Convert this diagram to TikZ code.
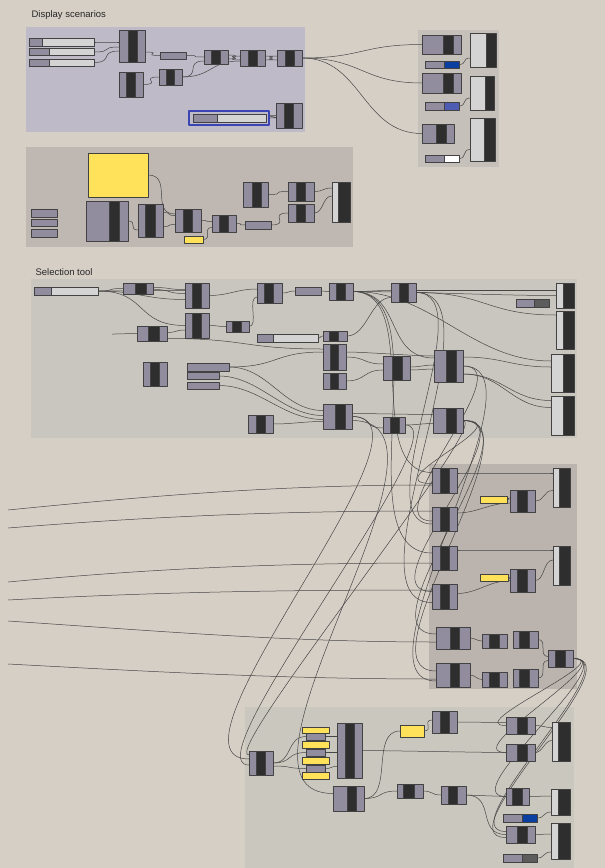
\documentclass[tikz,border=0pt]{standalone}
\usepackage{fontspec}
\setmainfont{Liberation Sans}
\usetikzlibrary{calc}
\pgfdeclarelayer{back}
\pgfdeclarelayer{wires}
\pgfsetlayers{back,wires,main}
\definecolor{bgc}{RGB}{214,207,198}
\definecolor{pdisp}{RGB}{190,186,199}
\definecolor{pgrey}{RGB}{190,183,178}
\definecolor{pright}{RGB}{198,192,186}
\definecolor{psel}{RGB}{200,198,190}
\definecolor{pmid}{RGB}{186,179,174}
\definecolor{pbot}{RGB}{202,199,190}
\definecolor{lav}{RGB}{145,141,158}
\definecolor{dark}{RGB}{46,46,46}
\definecolor{light}{RGB}{212,212,212}
\definecolor{edge}{RGB}{66,66,66}
\definecolor{wirec}{RGB}{70,70,70}
\definecolor{yel}{RGB}{255,226,90}
\definecolor{dblue}{RGB}{10,62,160}
\definecolor{mblue}{RGB}{78,92,180}
\definecolor{dgrey}{RGB}{92,92,92}
\definecolor{frameblue}{RGB}{58,68,178}
\begin{document}
\begin{tikzpicture}[x=1pt, y=-1pt, font=\fontsize{9.5}{11}\selectfont, line join=round, line cap=round,
  box/.style={draw=edge, line width=.6pt, inner sep=0pt, outer sep=0pt, rectangle},
  sz/.style 2 args={minimum width=#1pt, minimum height=#2pt},
  part/.style n args={3}{path picture={\filldraw[fill=#1, draw=edge, line width=.5pt]
    ($(path picture bounding box.north west)!#2!(path picture bounding box.north east)$) rectangle
    ($(path picture bounding box.south west)!#3!(path picture bounding box.south east)$);}},
  comp/.style={box, fill=lav, part={dark}{.32}{.68}},
  viewer/.style={box, fill=light, part={dark}{#1}{1}}, viewer/.default=.4,
  slider/.style={box, fill=light, part={lav}{0}{#1}}, slider/.default=.3,
  swatch/.style={box, fill=#1, part={lav}{0}{.56}},
  param/.style={box, fill=lav},
  ynote/.style={box, fill=yel},
  wire/.style={draw=wirec, line width=.5pt},
  gw/.style={wire, to path={.. controls +(#1,0) and +(-#1,0) .. (\tikztotarget)}}, gw/.default=20]
\useasboundingbox (0,0) rectangle (605,868);
\begin{pgfonlayer}{back}
\fill[bgc] (0,0) rectangle (605,868);
\fill[pdisp] (26,27) rectangle (305,132);
\fill[pgrey] (26,147) rectangle (353,247);
\fill[pright] (418,30) rectangle (499,167);
\fill[psel] (31,279) rectangle (577,438);
\fill[pmid] (429,464) rectangle (577,689);
\fill[pbot] (245,707) rectangle (574,868);
\end{pgfonlayer}
\node[anchor=base west, text=black!85] (t1) at (28,17) {Display scenarios};
\node[anchor=base west, text=black!85] (t2) at (32,275) {Selection tool};
% display scenarios
\node[slider=.2, sz={65}{8}] (s1) at (61.5,42) {};
\node[slider=.31, sz={65}{7}] (s2) at (61.5,52) {};
\node[slider=.31, sz={65}{7}] (s3) at (61.5,62.5) {};
\node[comp, part={dark}{.35}{.69}, sz={26}{32}] (c1) at (132,46) {};
\node[param, sz={26}{7}] (p1) at (173,55.5) {};
\node[comp, sz={24}{14}] (c2) at (216,57) {};
\node[comp, sz={25}{16}] (c3) at (252.5,58) {};
\node[comp, sz={25}{16}] (c4) at (289.5,58) {};
\node[comp, sz={24}{25}] (c5) at (131,84.5) {};
\node[comp, sz={23}{16}] (c6) at (170.5,77) {};
\node[draw=frameblue, line width=1.6pt, fill=pdisp, inner sep=0pt, sz={80}{14}] (f1) at (229,118) {};
\node[slider=.33, sz={73}{8}] (s4) at (229.5,118) {};
\node[comp, sz={26}{25}] (c7) at (289,115.5) {};
\node[comp, part={dark}{.54}{.79}, sz={39}{19}] (ca) at (441.5,44.5) {};
\node[swatch=dblue, sz={34}{7}] (w1) at (442,64.5) {};
\node[viewer=.62, sz={26}{34}] (v1) at (483,50) {};
\node[comp, part={dark}{.54}{.79}, sz={39}{20}] (cb) at (441.5,83) {};
\node[swatch=mblue, sz={34}{8}] (w2) at (442,106) {};
\node[viewer=.62, sz={24}{34}] (v2) at (482,93) {};
\node[comp, part={dark}{.44}{.75}, sz={32}{19}] (cc) at (438,133.5) {};
\node[swatch=white, sz={34}{7}] (w3) at (442,158.5) {};
\node[viewer=.56, sz={25}{43}] (v3) at (482.5,139.5) {};
% second group
\node[ynote, sz={60}{44}] (y1) at (118,175) {};
\node[param, sz={26}{8}] (q1) at (44,213) {};
\node[param, sz={26}{7}] (q2) at (44,222.5) {};
\node[param, sz={26}{8}] (q3) at (44,233) {};
\node[comp, part={dark}{.55}{.79}, sz={42}{40}] (c8) at (107,221) {};
\node[comp, part={dark}{.28}{.68}, sz={25}{33}] (c9) at (150.5,220.5) {};
\node[comp, sz={26}{23}] (c10) at (188,220.5) {};
\node[comp, sz={24}{17}] (c11) at (224,223.5) {};
\node[ynote, sz={19}{7}] (y2) at (193.5,239.5) {};
\node[param, sz={26}{8}] (p2) at (258,225) {};
\node[comp, part={dark}{.36}{.72}, sz={25}{25}] (c12) at (255.5,194.5) {};
\node[comp, sz={26}{19}] (c13) at (301,191.5) {};
\node[comp, sz={26}{18}] (c14) at (301,213) {};
\node[viewer=.33, sz={18}{40}] (v4) at (341,202) {};
% selection tool
\node[slider=.27, sz={64}{8}] (s5) at (66,291) {};
\node[comp, part={dark}{.4}{.77}, sz={30}{11}] (c15) at (138,288.5) {};
\node[comp, sz={24}{25}] (c16) at (197,295.5) {};
\node[comp, part={dark}{.28}{.64}, sz={25}{20}] (c17) at (269.5,293) {};
\node[param, sz={26}{8}] (p3) at (308,291) {};
\node[comp, sz={24}{17}] (c18) at (341,291.5) {};
\node[comp, sz={25}{19}] (c19) at (403.5,292.5) {};
\node[swatch=dgrey, sz={33}{8}] (w4) at (532.5,303) {};
\node[viewer=.39, sz={18}{25}] (v5) at (565,295.5) {};
\node[viewer=.39, sz={18}{38}] (v6) at (565,330) {};
\node[viewer=.52, sz={23}{38}] (v7) at (562.5,373) {};
\node[viewer=.52, sz={23}{39}] (v8) at (562.5,415.5) {};
\node[comp, sz={24}{25}] (c20) at (197,325.5) {};
\node[comp, part={dark}{.37}{.73}, sz={30}{15}] (c21) at (152,333.5) {};
\node[comp, part={dark}{.26}{.65}, sz={23}{11}] (c22) at (237.5,326.5) {};
\node[slider=.26, sz={61}{8}] (s6) at (287.5,338) {};
\node[comp, part={dark}{.25}{.63}, sz={24}{10}] (c23) at (335,336) {};
\node[comp, sz={23}{26}] (c24) at (334.5,357) {};
\node[comp, sz={23}{16}] (c25) at (334.5,381) {};
\node[comp, sz={24}{24}] (c26) at (155,374) {};
\node[param, sz={42}{8}] (p4) at (208,367) {};
\node[param, sz={32}{7}] (p5) at (203,376) {};
\node[param, sz={32}{7}] (p6) at (203,385.5) {};
\node[comp, part={dark}{.33}{.7}, sz={27}{24}] (c27) at (396.5,368) {};
\node[comp, part={dark}{.41}{.76}, sz={29}{32}] (c28) at (448.5,366) {};
\node[comp, sz={25}{18}] (c29) at (260.5,424) {};
\node[comp, part={dark}{.41}{.76}, sz={29}{25}] (c30) at (337.5,416.5) {};
\node[comp, part={dark}{.32}{.73}, sz={22}{16}] (c31) at (394,425) {};
\node[comp, part={dark}{.43}{.77}, sz={30}{25}] (c32) at (448,420.5) {};
% right group
\node[comp, sz={25}{25}] (c33) at (444.5,480.5) {};
\node[ynote, sz={27}{7}] (y3) at (493.5,499.5) {};
\node[comp, part={dark}{.28}{.68}, sz={25}{22}] (c34) at (522.5,501) {};
\node[viewer=.35, sz={17}{39}] (v9) at (561.5,487.5) {};
\node[comp, sz={25}{24}] (c35) at (444.5,519) {};
\node[comp, sz={25}{24}] (c36) at (444.5,558) {};
\node[comp, sz={25}{25}] (c37) at (444.5,596.5) {};
\node[ynote, sz={28}{7}] (y4) at (494,577.5) {};
\node[comp, part={dark}{.28}{.68}, sz={25}{23}] (c38) at (522.5,580.5) {};
\node[viewer=.35, sz={17}{39}] (v10) at (561.5,565.5) {};
\node[comp, part={dark}{.41}{.68}, sz={34}{22}] (c39) at (453,638) {};
\node[comp, part={dark}{.28}{.68}, sz={25}{14}] (c40) at (494.5,641) {};
\node[comp, part={dark}{.24}{.64}, sz={25}{17}] (c41) at (525.5,639.5) {};
\node[comp, part={dark}{.28}{.68}, sz={25}{17}] (c42) at (560.5,658.5) {};
\node[comp, part={dark}{.41}{.68}, sz={34}{24}] (c43) at (453,675) {};
\node[comp, part={dark}{.28}{.68}, sz={25}{15}] (c44) at (494.5,679.5) {};
\node[comp, part={dark}{.24}{.64}, sz={25}{18}] (c45) at (525.5,678) {};
% bottom group
\node[comp, sz={24}{24}] (b1) at (261,763) {};
\node[param, sz={19}{7}] (pa) at (315.5,736.5) {};
\node[param, sz={19}{7}] (pb) at (315.5,752.5) {};
\node[param, sz={19}{7}] (pc) at (315.5,768.5) {};
\node[ynote, sz={27}{6}] (ya) at (315.5,730) {};
\node[ynote, sz={27}{7}] (yb) at (315.5,744.5) {};
\node[ynote, sz={27}{7}] (yc) at (315.5,760.5) {};
\node[ynote, sz={27}{7}] (yd) at (315.5,775.5) {};
\node[comp, sz={25}{55}] (b2) at (349.5,750.5) {};
\node[ynote, sz={24}{12}] (y5) at (412,731) {};
\node[comp, sz={25}{22}] (b3) at (444.5,722) {};
\node[comp, part={dark}{.38}{.72}, sz={29}{17}] (b4) at (520.5,725.5) {};
\node[comp, part={dark}{.38}{.72}, sz={29}{17}] (b5) at (520.5,752.5) {};
\node[viewer=.33, sz={18}{39}] (v11) at (561,741.5) {};
\node[comp, part={dark}{.45}{.74}, sz={31}{25}] (b6) at (348.5,798.5) {};
\node[comp, part={dark}{.23}{.65}, sz={26}{14}] (b7) at (410,791) {};
\node[comp, part={dark}{.28}{.64}, sz={25}{18}] (b8) at (453.5,795) {};
\node[comp, part={dark}{.26}{.7}, sz={23}{17}] (b9) at (517.5,796.5) {};
\node[viewer=.37, sz={19}{26}] (v12) at (560.5,802) {};
\node[swatch=dblue, sz={34}{8}] (w5) at (520,818) {};
\node[comp, part={dark}{.38}{.72}, sz={29}{17}] (b10) at (520.5,834.5) {};
\node[viewer=.37, sz={19}{36}] (v13) at (560.5,841) {};
\node[swatch=dgrey, sz={34}{8}] (w6) at (520,858) {};
\coordinate (l0) at (112,334);
\coordinate (l1) at (8,510);
\coordinate (l2) at (8,528);
\coordinate (l3) at (8,582);
\coordinate (l4) at (8,600);
\coordinate (l5) at (8,621);
\coordinate (l6) at (8,664);
\begin{pgfonlayer}{wires}
% display scenarios
\draw[gw] (s1.east) to ([yshift=4pt]c1.west);
\draw[gw] (s2.east) to ([yshift=-1pt]c1.west);
\draw[gw] (s3.east) to ([yshift=-5pt]c1.west);
\draw[gw] ([yshift=-6pt]c1.east) to (p1.west);
\draw[gw] (p1.east) to (c2.west);
\draw[gw] (c6.east) to ([yshift=-4pt]c2.west);
\draw[gw=30] (c6.east) to ([yshift=-3pt]c3.west);
\draw[gw] ([yshift=2pt]c2.east) to ([yshift=-2pt]c3.west);
\draw[gw] ([yshift=-2pt]c2.east) to ([yshift=2pt]c3.west);
\draw[gw] ([yshift=2pt]c3.east) to ([yshift=-2pt]c4.west);
\draw[gw] ([yshift=-2pt]c3.east) to ([yshift=2pt]c4.west);
\draw[gw] (c5.east) to (c6.west);
\draw[gw] (f1.east) to (c7.west);
\draw[gw=60] (c4.east) to (ca.west);
\draw[gw=60] (c4.east) to (cb.west);
\draw[gw=60] (c4.east) to (cc.west);
\draw[gw=8] (w1.east) to ([yshift=-8pt]v1.west);
\draw[gw=8] (w2.east) to ([yshift=-5pt]v2.west);
\draw[gw=8] (w3.east) to ([yshift=-10pt]v3.west);
% second group
\draw[gw=25] (y1.east) to ([yshift=6.5pt]c10.west);
\draw[gw=10] (c8.east) to ([yshift=-9.5pt]c9.west);
\draw[gw=10] ([yshift=8pt]c9.east) to ([yshift=5pt]c10.west);
\draw[gw=10] ([yshift=-6pt]c9.east) to ([yshift=-4pt]c10.west);
\draw[gw=10] (c10.east) to ([yshift=2pt]c11.west);
\draw[gw=10] (y2.east) to ([yshift=-4pt]c11.west);
\draw[gw=10] (c11.east) to (p2.west);
\draw[gw] (p2.east) to (c14.west);
\draw[gw] (c12.east) to (c13.west);
\draw[gw=10] (c13.east) to ([yshift=14pt]v4.west);
\draw[gw=10] (c14.east) to ([yshift=6pt]v4.west);
% selection tool
\draw[gw] (l0) to (c21.west);
\draw[gw] (s5.east) to (c15.west);
\draw[gw=40] (s5.east) to ([yshift=5pt]c16.west);
\draw[gw=40] (s5.east) to ([yshift=-4pt]c16.west);
\draw[gw=50] (s5.east) to (c20.west);
\draw[gw] ([yshift=1pt]c15.east) to ([yshift=6pt]c16.west);
\draw[gw] ([yshift=-1pt]c15.east) to ([yshift=2pt]c16.west);
\draw[gw] (c16.east) to ([yshift=4pt]c17.west);
\draw[gw=10] (c20.east) to (c22.west);
\draw[gw=10] (c22.east) to ([yshift=-4pt]c17.west);
\draw[gw=10] ([yshift=1pt]c21.east) to ([yshift=-4.5pt]c20.west);
\draw[gw=80] ([yshift=-5pt]c21.east) to ([yshift=8pt]c24.west);
\draw[gw=8] (c17.east) to (p3.west);
\draw[gw=5] (p3.east) to (c18.west);
\draw[gw] (c18.east) to ([yshift=2pt]c19.west);
\draw[gw=40] ([yshift=2pt]c19.east) to ([yshift=5pt]v5.west);
\draw[gw=60] (c18.east) to (v5.west);
\draw[gw=70] (c19.east) to ([yshift=15pt]v6.west);
\draw[gw=80] (c18.east) to ([yshift=12pt]v7.west);
\draw[gw=50] (c18.east) to ([yshift=8pt]c28.west);
\draw[gw=20] (c23.east) to ([yshift=-5pt]c19.west);
\draw[gw=4] (s6.east) to (c23.west);
\draw[gw] ([yshift=5pt]c24.east) to ([yshift=10pt]c28.west);
\draw[gw] (c24.east) to ([yshift=4pt]c27.west);
\draw[gw] (c25.east) to ([yshift=-2pt]c27.west);
\draw[gw=10] ([yshift=1pt]c27.east) to ([yshift=1pt]c28.west);
\draw[gw=10] ([yshift=-2pt]c27.east) to ([yshift=-3pt]c28.west);
\draw[gw=40] ([yshift=9pt]c28.east) to ([yshift=6pt]v7.west);
\draw[gw=40] ([yshift=-8pt]c28.east) to ([yshift=15pt]v8.west);
\draw[gw=40] ([yshift=-8pt]c28.east) to ([yshift=8pt]v8.west);
\draw[gw=50] (p4.east) to ([yshift=5pt]c24.west);
\draw[gw=40] (p4.east) to ([yshift=6pt]c30.west);
\draw[gw=40] (p5.east) to ([yshift=1pt]c30.west);
\draw[gw=40] (p6.east) to ([yshift=-3pt]c30.west);
\draw[gw] (c29.east) to ([yshift=-5pt]c30.west);
\draw[gw] (c30.east) to ([yshift=-3pt]c31.west);
\draw[gw] ([yshift=3pt]c30.east) to ([yshift=6pt]c32.west);
\draw[gw=10] (c31.east) to ([yshift=-3pt]c32.west);
% loops down to the right group
\draw[gw=70] (c18.east) to ([yshift=8pt]c33.west);
\draw[gw=70] (c19.east) to ([yshift=-5pt]c35.west);
\draw[gw=90] (c18.east) to ([yshift=5pt]c36.west);
\draw[gw=90] (c19.east) to ([yshift=-6pt]c37.west);
\draw[gw=60] (c32.east) to ([yshift=-3pt]c33.west);
\draw[gw=60] (c28.east) to ([yshift=-2pt]c35.west);
\draw[gw=70] (c32.east) to ([yshift=5pt]c37.west);
\draw[gw=80] (c32.east) to ([yshift=4pt]c39.west);
\draw[gw=80] (c32.east) to ([yshift=4pt]c43.west);
\draw[gw=90] (c28.east) to ([yshift=-6pt]c43.west);
% loops down to the bottom group
\draw[gw=100] (c30.east) to ([yshift=4pt]b1.west);
\draw[gw=60] (c31.east) to ([yshift=-2pt]b1.west);
\draw[gw=30] (c32.east) to ([yshift=8pt]b1.west);
\draw[gw=130] ([yshift=-4pt]c30.east) to ([yshift=5pt]b6.west);
% long wires from the left
\draw[wire] (l1) .. controls +(150,-15) and +(-150,0) .. ([yshift=-4.5pt]c33.west);
\draw[wire] (l2) .. controls +(150,-12) and +(-150,0) .. ([yshift=8pt]c35.west);
\draw[wire] (l3) .. controls +(150,-14) and +(-150,0) .. ([yshift=-5pt]c36.west);
\draw[wire] (l4) .. controls +(150,-8) and +(-150,0) .. ([yshift=6.5pt]c37.west);
\draw[wire] (l5) .. controls +(150,10) and +(-150,0) .. ([yshift=-4pt]c39.west);
\draw[wire] (l6) .. controls +(150,8) and +(-150,0) .. ([yshift=-4pt]c43.west);
% right group
\draw[gw] ([yshift=7.5pt]c33.east) to ([yshift=14.5pt]v9.west);
\draw[gw=5] (y3.east) to ([yshift=3pt]c34.west);
\draw[gw] ([yshift=6pt]c35.east) to ([yshift=-2pt]c34.west);
\draw[gw=10] (c34.east) to ([yshift=-3pt]v9.west);
\draw[gw] ([yshift=8pt]c36.east) to ([yshift=15.5pt]v10.west);
\draw[gw] ([yshift=3pt]c37.east) to (c38.west);
\draw[gw=4] (y4.east) to ([yshift=2pt]c38.west);
\draw[gw=10] (c38.east) to ([yshift=5.5pt]v10.west);
\draw[gw=5] (c39.east) to (c40.west);
\draw[gw=5] (c43.east) to (c44.west);
\draw[gw=10] (c41.east) to ([yshift=2pt]c42.west);
\draw[gw=10] (c45.east) to ([yshift=-2pt]c42.west);
\draw[gw=45] (c42.east) to (b4.west);
\draw[gw=50] (c42.east) to (b5.west);
\draw[gw=55] (c42.east) to (b9.west);
\draw[gw=60] (c42.east) to ([yshift=3pt]b10.west);
\draw[gw=65] (c42.east) to ([yshift=-3pt]b10.west);
% bottom group
\draw[gw] (b1.east) to (pa.west);
\draw[gw] (b1.east) to (pb.west);
\draw[gw] ([yshift=-3pt]b1.east) to (pc.west);
\draw[gw=8] (pa.east) to ([yshift=14pt]b2.west);
\draw[gw=8] (pb.east) to ([yshift=-2pt]b2.west);
\draw[gw=8] (pc.east) to ([yshift=-16pt]b2.west);
\draw[gw] (b2.east) to (b5.west);
\draw[gw=30] (b6.east) to (y5.west);
\draw[gw] (b6.east) to (b7.west);
\draw[gw=10] (y5.east) to ([yshift=2pt]b3.west);
\draw[gw] (b3.east) to ([yshift=3pt]b4.west);
\draw[gw=10] (b7.east) to (b8.west);
\draw[gw] (b8.east) to (b9.west);
\draw[gw=30] (b8.east) to (b10.west);
\draw[gw=8] (b4.east) to ([yshift=14pt]v11.west);
\draw[gw=8] (b5.east) to ([yshift=1pt]v11.west);
\draw[gw=8] (b9.east) to ([yshift=6pt]v12.west);
\draw[gw=8] (w5.east) to ([yshift=-10pt]v12.west);
\draw[gw=8] (b10.east) to ([yshift=7pt]v13.west);
\draw[gw=8] (w6.east) to ([yshift=-11pt]v13.west);
\end{pgfonlayer}
\end{tikzpicture}
\end{document}
